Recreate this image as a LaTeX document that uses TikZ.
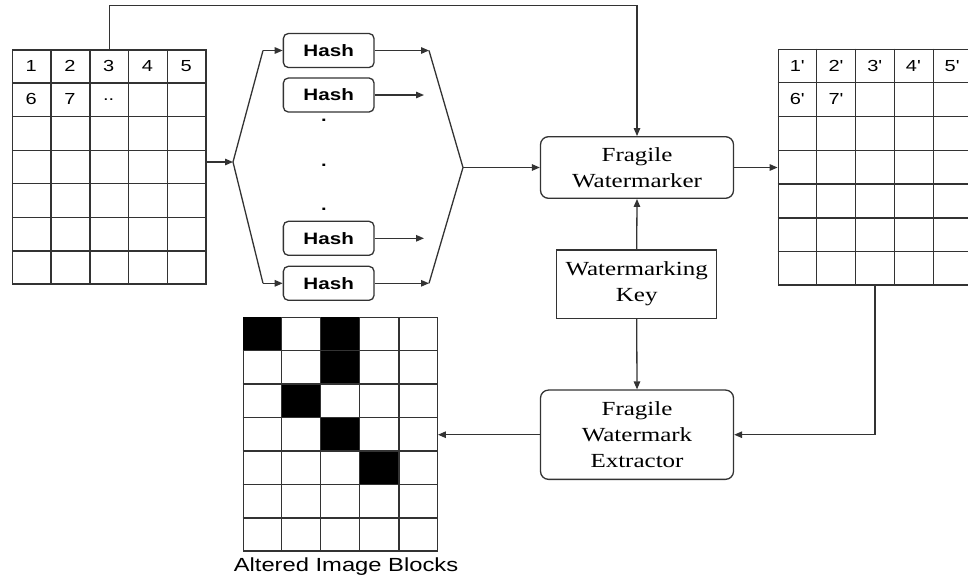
\documentclass[tikz,border=0pt]{standalone}
\usepackage{fontspec}
\setmainfont{Liberation Serif}[FakeStretch=1.25]
\newfontfamily\arialf{Liberation Sans}[FakeStretch=1.25]
\usetikzlibrary{arrows.meta,calc}
\begin{document}
\begin{tikzpicture}[x=1pt,y=-1pt,
  ln/.style={draw=black!80,line width=1.3pt},
  arr/.style={ln,-{Triangle[length=8pt,width=6.5pt]}},
  gridbox/.style={ln,rectangle,inner sep=0pt,minimum width=193.5pt,minimum height=234pt},
  hashbox/.style={ln,rounded corners=5pt,inner sep=0pt,minimum width=90.7pt,minimum height=34pt,
    font=\arialf\bfseries\fontsize{16.5}{19}\selectfont},
  procbox/.style={ln,rounded corners=8pt,inner sep=0pt,minimum width=193pt,align=center,
    font=\fontsize{20}{26}\selectfont},
  keybox/.style={ln,inner sep=0pt,minimum width=160pt,minimum height=68.3pt,align=center,
    font=\fontsize{20}{26}\selectfont},
  numtxt/.style={inner sep=0pt,font=\arialf\fontsize{16}{19}\selectfont},
  dotn/.style={inner sep=0pt,font=\arialf\bfseries\fontsize{16}{19}\selectfont}
]
\useasboundingbox (0,0) rectangle (968,582);

% grids
\node[gridbox] (L) at (109.35,167) {};
\node[gridbox,minimum height=235.7pt] (R) at (875,167.2) {};
\node[gridbox,minimum width=194pt,minimum height=233.3pt] (B) at (340.3,434.35) {};

% altered blocks
\foreach \c/\r in {1/1,3/1,3/2,2/3,3/4,4/5}
  \fill[black] ($(B.north west)+({(\c-1)*38.8},{(\r-1)*33.33})$) rectangle ++(38.8,33.33);

\foreach \g in {L,R,B}{
  \foreach \i in {1,...,4}
    \draw[ln] ($(\g.north west)!\i/5!(\g.north east)$) -- ($(\g.south west)!\i/5!(\g.south east)$);
  \foreach \j in {1,...,6}
    \draw[ln] ($(\g.north west)!\j/7!(\g.south west)$) -- ($(\g.north east)!\j/7!(\g.south east)$);
}

% numbers
\foreach \t [count=\c] in {1,2,3,4,5}
  \node[numtxt] (La\c) at ($(L.north west)+({(\c-0.5)*38.7},16.7)$) {\t};
\foreach \t [count=\c] in {6,7}
  \node[numtxt] (Lb\c) at ($(L.north west)+({(\c-0.5)*38.7},50.1)$) {\t};
\node[numtxt] (Lb3) at ($(L.north west)+(96.7,50.5)$) {..};
\foreach \t [count=\c] in {1,2,3,4,5}
  \node[numtxt] (Ra\c) at ($(R.north west)+({(\c-0.5)*38.7},16.9)$) {\t\textquotesingle};
\foreach \t [count=\c] in {6,7}
  \node[numtxt] (Rb\c) at ($(R.north west)+({(\c-0.5)*38.7},50.5)$) {\t\textquotesingle};

\node[font=\arialf\fontsize{19}{22}\selectfont,anchor=base] (lbl) at (346,571.5) {Altered Image Blocks};

% hash boxes
\node[hashbox] (H1) at (328.7,50.5) {Hash};
\node[hashbox] (H2) at (328.7,95) {Hash};
\node[hashbox] (H3) at (328.7,238.3) {Hash};
\node[hashbox] (H4) at (328.7,283.3) {Hash};
\node[dotn] (d1) at (324,120) {.};
\node[dotn] (d2) at (324,165) {.};
\node[dotn] (d3) at (324,209) {.};

% process boxes
\node[procbox,minimum height=61.6pt] (FW) at (637,167.5) {Fragile\\Watermarker};
\node[keybox] (WK) at (636.7,284.2) {Watermarking\\Key};
\node[procbox,minimum height=89.3pt] (FWE) at (637,434.7) {Fragile\\Watermark\\Extractor};

% hexagon coordinates
\coordinate (hl) at (233,162);
\coordinate (hul) at (263,50.5);
\coordinate (hll) at (263,283.3);
\coordinate (hur) at (429,50.5);
\coordinate (hlr) at (429,283.3);
\coordinate (hr) at (463,167.5);
\coordinate (e2) at (424,95);
\coordinate (e3) at (424,238.3);
\coordinate (tp) at (109.35,5.7);

% connectors
\draw[arr] (L.east |- hl) -- (hl);
\draw[ln] (hul) -- (hl) -- (hll);
\draw[arr] (hul) -- (H1.west);
\draw[arr] (hll) -- (H4.west);
\draw[arr] (H1.east) -- (hur);
\draw[arr] (H2.east) -- (e2);
\draw[arr] (H3.east) -- (e3);
\draw[arr] (H4.east) -- (hlr);
\draw[ln] (hur) -- (hr) -- (hlr);
\draw[arr] (hr) -- (FW.west);
\draw[arr] (L.north) -- (tp) -| (FW.north);
\draw[arr] (FW.east) -- (FW.east -| R.west);
\draw[arr] (WK.north) -- (FW.south);
\draw[arr] (WK.south) -- (FWE.north);
\draw[arr] (R.south) |- (FWE.east);
\draw[arr] (FWE.west) -- (FWE.west -| B.east);
\end{tikzpicture}
\end{document}
